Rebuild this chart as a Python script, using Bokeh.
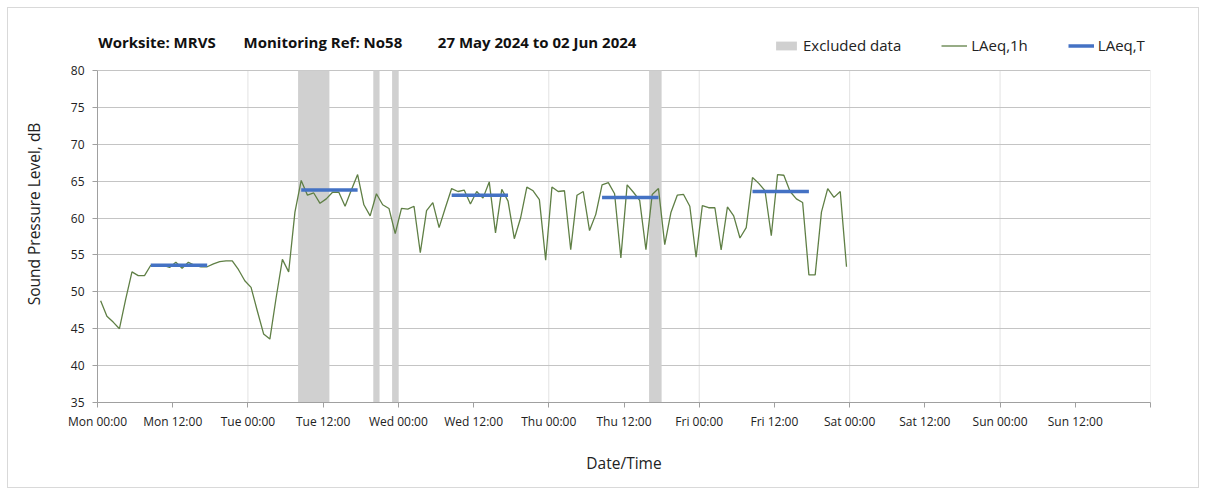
from bokeh.plotting import figure
from bokeh.models import (ColumnDataSource, Legend, LegendItem, Label,
                          FixedTicker, Range1d)
from bokeh.embed import file_html
from bokeh.resources import INLINE

# ---------------- data ----------------
# hourly LAeq,1h values starting Mon 27 May 2024 00:00 (hour index 0..119)
laeq_1h = [
    48.8, 46.7, 45.9, 45.0, 49.0, 52.7, 52.2, 52.2, 53.6, 53.5,
    53.6, 53.3, 54.0, 53.2, 54.0, 53.6, 53.4, 53.4, 53.8, 54.1,
    54.2, 54.2, 53.0, 51.5, 50.6, 47.4, 44.3, 43.6, 49.2, 54.4,
    52.7, 60.8, 65.1, 63.1, 63.4, 62.0, 62.6, 63.5, 63.5, 61.6,
    63.8, 65.9, 61.8, 60.3, 63.3, 61.8, 61.3, 57.9, 61.3, 61.2,
    61.6, 55.3, 61.0, 62.1, 58.7, 61.4, 64.0, 63.6, 63.8, 61.9,
    63.6, 62.7, 64.9, 58.0, 63.9, 62.3, 57.2, 60.0, 64.2, 63.7,
    62.5, 54.3, 64.2, 63.6, 63.7, 55.7, 63.1, 63.6, 58.3, 60.5,
    64.5, 64.8, 63.3, 54.6, 64.5, 63.5, 62.4, 55.7, 63.2, 64.0,
    56.4, 60.8, 63.1, 63.2, 61.6, 54.7, 61.7, 61.4, 61.4, 55.7,
    61.5, 60.3, 57.3, 58.7, 65.5, 64.7, 63.7, 57.6, 65.9, 65.8,
    63.6, 62.6, 62.1, 52.3, 52.3, 60.8, 64.0, 62.8, 63.6, 53.4,
]
hour_index = list(range(len(laeq_1h)))
hour_mid = [h + 0.5 for h in hour_index]

# LAeq,T daytime periods (hour index of first and last hour)
t_start = [8, 32, 56, 80, 104]
t_end = [17, 41, 65, 89, 113]
laeq_t = [53.6, 63.8, 63.1, 62.8, 63.6]

# excluded data periods (hours since Mon 00:00)
excl_start = [32, 44, 47, 88]
excl_end = [37, 45, 48, 90]

tick_hours = list(range(0, 169, 12))
tick_labels = ["Mon 00:00", "Mon 12:00", "Tue 00:00", "Tue 12:00",
               "Wed 00:00", "Wed 12:00", "Thu 00:00", "Thu 12:00",
               "Fri 00:00", "Fri 12:00", "Sat 00:00", "Sat 12:00",
               "Sun 00:00", "Sun 12:00", ""]
midnights = list(range(24, 169, 24))
y_ticks = [35, 40, 45, 50, 55, 60, 65, 70, 75, 80]
Y_MIN, Y_MAX = 35, 80

title_parts = ["Worksite: MRVS", "Monitoring Ref: No58",
               "27 May 2024 to 02 Jun 2024"]

FONT = "Open Sans"

# the frame also holds the title row above 80 dB (axis bounded at 35-80)
p = figure(output_backend="svg", toolbar_location=None,
           frame_width=1053, frame_height=377,
           min_border_left=89, min_border_right=48,
           min_border_top=17, min_border_bottom=85,
           x_range=Range1d(0, 168), y_range=Range1d(35, 86.1))
p.styles = {"border": "1px solid #d9d9d9", "margin": "7px 0 0 7px"}
p.outline_line_color = None
p.background_fill_color = "white"
p.border_fill_color = "white"

src = ColumnDataSource(dict(x=hour_mid, y=laeq_1h))
esrc = ColumnDataSource(dict(left=excl_start, right=excl_end,
                             bottom=[Y_MIN] * len(excl_start),
                             top=[Y_MAX] * len(excl_start)))
tsrc = ColumnDataSource(dict(x0=[s + 0.5 for s in t_start],
                             x1=[e + 0.5 for e in t_end],
                             y=laeq_t))
gsrc = ColumnDataSource(dict(x=midnights, y0=[Y_MIN] * len(midnights),
                             y1=[Y_MAX] * len(midnights)))

# vertical grid lines (midnights), limited to the 35-80 dB area
p.segment(x0="x", y0="y0", x1="x", y1="y1", source=gsrc,
          line_color="#e2e2e2", line_width=1, level="underlay")

r_ex = p.quad(left="left", right="right", bottom="bottom", top="top",
              source=esrc, fill_color="#d0d0d0", line_color=None)
r_1h = p.line("x", "y", source=src, line_color="#5f7f45", line_width=1.3)
r_t = p.segment(x0="x0", y0="y", x1="x1", y1="y", source=tsrc,
                line_color="#4472c4", line_width=3.5)

# axes
p.xaxis.ticker = FixedTicker(ticks=tick_hours)
p.xaxis.major_label_overrides = {h: l for h, l in zip(tick_hours, tick_labels)}
p.yaxis.ticker = FixedTicker(ticks=y_ticks)
p.yaxis.bounds = (Y_MIN, Y_MAX)
for ax in (p.xaxis[0], p.yaxis[0]):
    ax.axis_line_color = "#a0a0a0"
    ax.major_tick_line_color = "#a0a0a0"
    ax.major_tick_in = 0
    ax.major_tick_out = 5
    ax.minor_tick_line_color = None
    ax.major_label_text_font = FONT
    ax.major_label_text_font_size = "12px"
    ax.major_label_text_color = "#222222"
    ax.axis_label_text_font = FONT
    ax.axis_label_text_font_size = "15.5px"
    ax.axis_label_text_font_style = "normal"
    ax.axis_label_text_color = "#222222"
p.xaxis.axis_label = "Date/Time"
p.yaxis.axis_label = "Sound Pressure Level, dB"
p.xaxis.axis_label_standoff = 19
p.yaxis.axis_label_standoff = 23
p.xaxis.major_label_standoff = 5
p.yaxis.major_label_standoff = 8

p.xgrid.visible = False
p.ygrid.ticker = FixedTicker(ticks=y_ticks)
p.ygrid.grid_line_color = "#c4c4c4"

# title pieces
for txt, xh in zip(title_parts, (0.1, 23.3, 54.3)):
    p.add_layout(Label(x=xh, y=83.9, text=txt, text_font=FONT,
                       text_font_size="15px", text_font_style="bold",
                       text_color="#111111", text_baseline="middle"))

legend = Legend(items=[LegendItem(label="Excluded data", renderers=[r_ex]),
                       LegendItem(label="LAeq,1h", renderers=[r_1h]),
                       LegendItem(label="LAeq,T", renderers=[r_t])],
                orientation="horizontal", location=(676, 347),
                glyph_width=26, glyph_height=11, label_standoff=4,
                spacing=40, padding=0, margin=0,
                border_line_color=None, background_fill_alpha=0,
                label_text_font=FONT, label_text_font_size="15px",
                label_text_color="#222222")
p.add_layout(legend)

open("out.html", "w").write(file_html(p, INLINE))
